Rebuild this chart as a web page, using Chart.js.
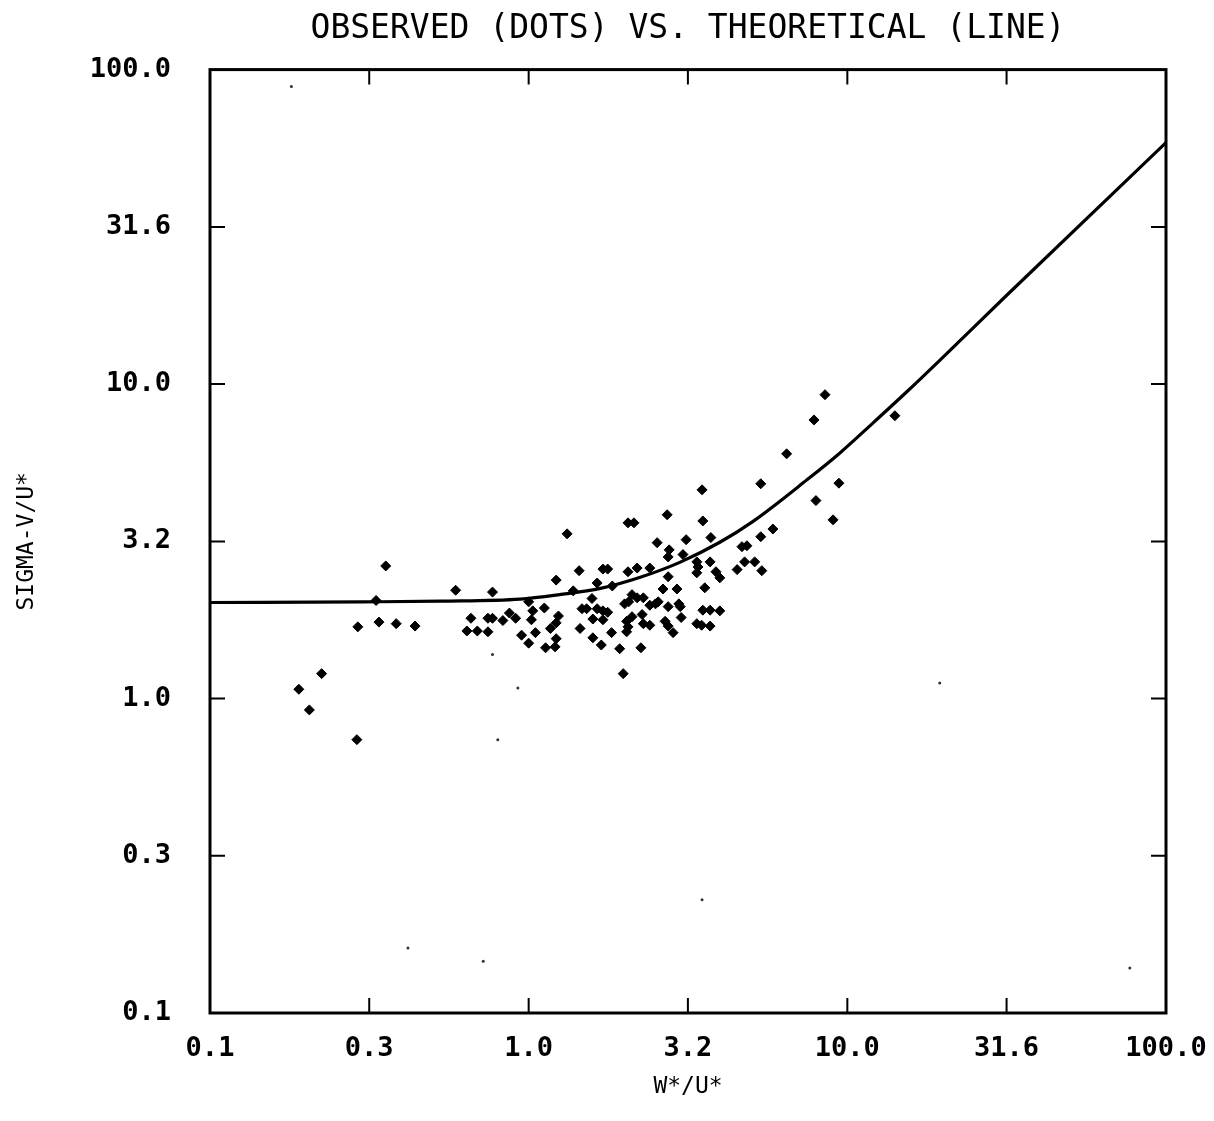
<!DOCTYPE html>
<html>
<head>
<meta charset="utf-8">
<script src="https://cdn.jsdelivr.net/npm/chart.js@4/dist/chart.umd.min.js"></script>
<style>
  body { margin: 0; background: #fff; }
  #wrap { width: 1214px; height: 1121px; }
</style>
</head>
<body>
<div id="wrap"><canvas id="c"></canvas></div>
<script>
// tick values + labels (same on both axes)
const tickVals = [0.1, 0.316, 1, 3.16, 10, 31.6, 100];
const tickLabels = ["0.1", "0.3", "1.0", "3.2", "10.0", "31.6", "100.0"];

// theoretical line
const lineX = [0.1, 0.3, 0.53, 0.94, 1.25, 1.68, 2.24, 2.98, 3.98, 5.06, 7.47, 9.48, 12.0, 15.4, 19.5, 31.7, 100];
const lineY = [2.02, 2.03, 2.04, 2.07, 2.14, 2.24, 2.43, 2.71, 3.14, 3.66, 4.96, 6.04, 7.50, 9.47, 11.9, 19.2, 58.6];

// observed dots [W*/U*, SIGMA-V/U*]
const observed = [
  [0.356,2.64],[0.332,2.05],[0.59,2.21],[0.291,1.69],[0.339,1.75],[0.384,1.73],[0.44,1.70],
  [0.659,1.80],[0.64,1.64],[0.69,1.64],[0.224,1.20],[0.19,1.07],[0.205,0.92],[0.289,0.74],
  [1.32,3.34],[0.77,2.18],[1.22,2.38],[1.44,2.55],[1.71,2.58],[1.77,2.58],[1.64,2.33],
  [1.83,2.28],[1.38,2.20],[1.58,2.08],[1.0,2.03],[0.745,1.80],[0.77,1.80],[0.83,1.77],
  [0.87,1.87],[0.91,1.80],[1.03,1.90],[1.12,1.94],[1.02,1.78],[1.24,1.83],[1.22,1.74],
  [1.47,1.93],[1.52,1.93],[1.64,1.93],[1.71,1.90],[1.77,1.88],[1.59,1.79],[1.71,1.78],
  [0.745,1.63],[0.95,1.59],[1.05,1.62],[1.17,1.67],[1.0,1.50],[1.22,1.55],[1.21,1.46],
  [1.13,1.45],[1.45,1.67],[1.59,1.56],[1.69,1.48],[1.82,1.62],
  [2.72,3.84],[2.05,3.62],[2.14,3.62],[3.52,3.67],[2.53,3.13],[3.12,3.20],[3.73,3.25],
  [2.76,2.97],[2.74,2.82],[3.05,2.87],[3.37,2.72],[3.40,2.62],[3.37,2.51],[3.71,2.72],
  [3.87,2.53],[3.98,2.42],[4.51,2.57],[2.05,2.53],[2.19,2.60],[2.40,2.60],[2.74,2.44],
  [2.64,2.23],[2.92,2.23],[3.57,2.25],[2.11,2.14],[2.19,2.09],[2.29,2.09],[2.0,2.0],
  [2.06,2.03],[2.40,1.98],[2.50,2.0],[2.55,2.03],[2.74,1.96],[2.96,2.0],[2.99,1.96],
  [3.52,1.91],[3.71,1.91],[3.98,1.90],[2.11,1.82],[2.03,1.76],[2.05,1.69],[2.27,1.85],
  [2.29,1.73],[2.40,1.71],[2.68,1.76],[2.74,1.70],[3.01,1.81],[3.37,1.73],[3.49,1.71],
  [3.71,1.70],[2.84,1.62],[2.03,1.63],[1.93,1.44],[2.25,1.45],[1.98,1.20],
  [8.51,9.25],[7.86,7.69],[14.1,7.93],[6.45,6.0],[5.35,4.82],[9.41,4.84],[3.50,4.61],
  [7.97,4.26],[9.02,3.70],[5.84,3.46],[5.35,3.27],[4.67,3.04],[4.84,3.06],[4.76,2.72],
  [5.12,2.72],[5.39,2.55]
];

// stray specks in the scan
const specks = [
  [0.18,88.4],[0.418,0.161],[0.72,0.146],[0.77,1.38],[0.925,1.08],[0.80,0.74],
  [3.50,0.229],[19.5,1.12],[77,0.139]
];

const monoFont = "'DejaVu Sans Mono', 'Liberation Mono', monospace";

// frame + inward tick marks on all four sides
const frameTicks = {
  id: 'frameTicks',
  afterDatasetsDraw(chart) {
    const ctx = chart.ctx;
    const a = chart.chartArea;
    const xs = chart.scales.x, ys = chart.scales.y;
    ctx.save();
    ctx.strokeStyle = '#000';
    ctx.lineWidth = 3;
    ctx.strokeRect(a.left, a.top, a.right - a.left, a.bottom - a.top);
    ctx.lineWidth = 2;
    const len = 15;
    tickVals.slice(1, -1).forEach(v => {
      const px = xs.getPixelForValue(v);
      const py = ys.getPixelForValue(v);
      ctx.beginPath();
      ctx.moveTo(px, a.bottom); ctx.lineTo(px, a.bottom - len);
      ctx.moveTo(px, a.top); ctx.lineTo(px, a.top + len);
      ctx.moveTo(a.left, py); ctx.lineTo(a.left + len, py);
      ctx.moveTo(a.right, py); ctx.lineTo(a.right - len, py);
      ctx.stroke();
    });
    ctx.restore();
  }
};

function setTicks(scale) {
  scale.ticks = tickVals.map(v => ({ value: v }));
}

new Chart(document.getElementById('c'), {
  type: 'scatter',
  data: {
    datasets: [
      {
        label: 'theoretical',
        data: lineX.map((x, i) => ({ x: x, y: lineY[i] })),
        showLine: true,
        borderColor: '#000',
        borderWidth: 3.2,
        pointRadius: 0,
        cubicInterpolationMode: 'monotone'
      },
      {
        label: 'observed',
        data: observed.map(p => ({ x: p[0], y: p[1] })),
        pointStyle: 'rectRot',
        pointRadius: 5,
        backgroundColor: '#000',
        borderColor: '#000',
        borderWidth: 1
      },
      {
        label: 'specks',
        data: specks.map(p => ({ x: p[0], y: p[1] })),
        pointRadius: 1.5,
        backgroundColor: '#333',
        borderWidth: 0
      }
    ]
  },
  options: {
    responsive: true,
    maintainAspectRatio: false,
    animation: false,
    layout: { padding: { left: 0, right: 48, top: 0, bottom: 0 } },
    plugins: {
      legend: { display: false },
      tooltip: { enabled: false },
      title: {
        display: true,
        fullSize: false,
        text: 'OBSERVED (DOTS) VS. THEORETICAL (LINE)',
        color: '#000',
        font: { family: monoFont, size: 33, weight: 'normal' },
        padding: { top: 10, bottom: 20 }
      }
    },
    scales: {
      x: {
        type: 'logarithmic',
        min: 0.1,
        max: 100,
        afterBuildTicks: setTicks,
        afterFit: s => { s.height = 108; s.paddingLeft = 0; s.paddingRight = 0; },
        grid: { display: false },
        border: { display: false },
        ticks: {
          color: '#000',
          padding: 12,
          maxRotation: 0,
          autoSkip: false,
          font: { family: monoFont, size: 27, weight: 'bold' },
          callback: (v, i) => tickLabels[i]
        },
        title: {
          display: true,
          text: 'W*/U*',
          color: '#000',
          font: { family: monoFont, size: 23 },
          padding: { top: 0, bottom: 20 }
        }
      },
      y: {
        type: 'logarithmic',
        min: 0.1,
        max: 100,
        afterBuildTicks: setTicks,
        afterFit: s => { s.width = 210; s.paddingTop = 0; s.paddingBottom = 0; },
        grid: { display: false },
        border: { display: false },
        ticks: {
          color: '#000',
          padding: 31,
          autoSkip: false,
          font: { family: monoFont, size: 27, weight: 'bold' },
          callback: (v, i) => tickLabels[i]
        },
        title: {
          display: true,
          text: 'SIGMA-V/U*',
          color: '#000',
          font: { family: monoFont, size: 23 },
          padding: { top: 13, bottom: 0 }
        }
      }
    }
  },
  plugins: [frameTicks]
});
</script>
</body>
</html>
